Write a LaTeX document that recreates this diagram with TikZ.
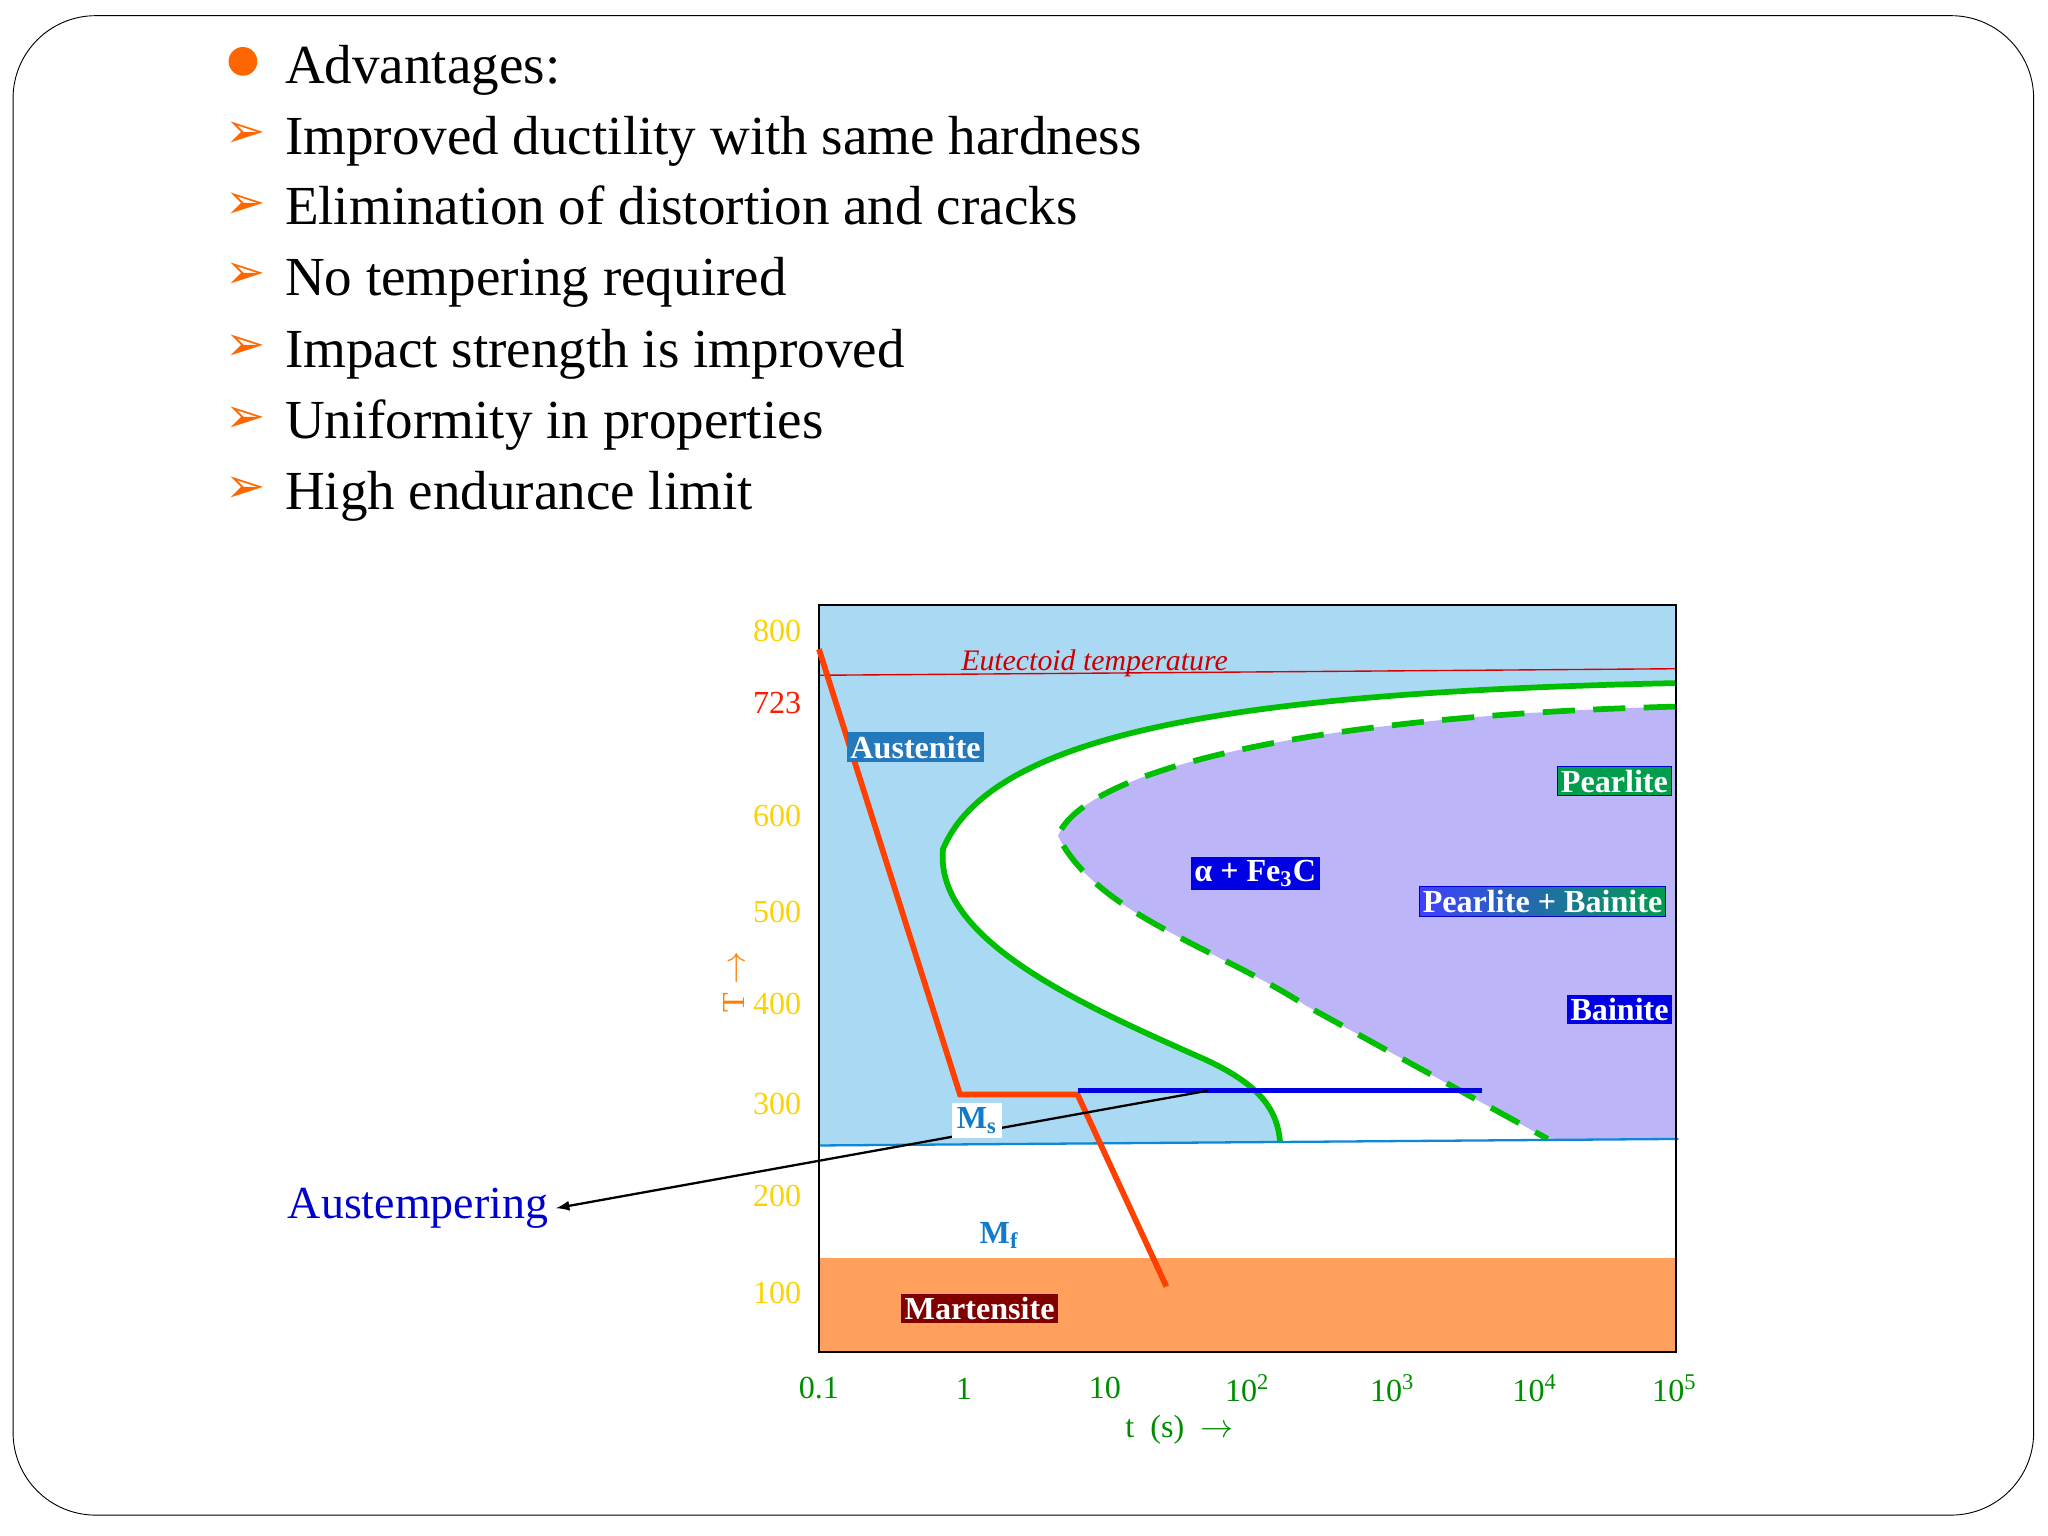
\documentclass[tikz,border=0pt]{standalone}
\usepackage{fontspec}
\setmainfont{Liberation Serif}
\newfontfamily\dejavu{DejaVu Sans}
\begin{document}
\begin{tikzpicture}[x=0.02cm,y=-0.02cm,
  bul/.style={anchor=base west,font=\fontsize{24}{28}\selectfont},
  arr/.style={anchor=base,text=orange!80!red,font=\dejavu\fontsize{21}{24}\selectfont},
  ytick/.style={text=yellow!70!orange,font=\fontsize{14}{16}\selectfont},
  xtick/.style={text=green!55!black,font=\fontsize{14}{16}\selectfont},
  lab/.style={text=white,font=\bfseries\fontsize{14}{16}\selectfont,inner sep=1.5pt}]
\useasboundingbox (0,0) rectangle (1568,1176);
\draw[rounded corners=36pt] (10,12) rectangle (1557,1160);
% bullets
\fill[orange!80!red] (186,47) circle (11);
\node[bul] (t0) at (212,64) {Advantages:};
\foreach \y/\t in {118/Improved ductility with same hardness,172/Elimination of distortion and cracks,226/No tempering required,281/Impact strength is improved,336/Uniformity in properties,390/High endurance limit}{
 \node[arr] at (188,\y-5) {➢};
 \node[bul] at (212,\y) {\t};}
% chart fills
\fill[cyan!30!white!95!blue] (627,463) rectangle (1283,877);
\fill[white] (627,877)--(1283,872)--(1283,963)--(627,963)--cycle;
\fill[orange!60!white!90!red] (627,963) rectangle (1283,1035);
\fill[white] (1283,523) .. controls (950,530) and (760,560) .. (722,650) .. controls (715,720) and (830,770) .. (920,810) .. controls (965,830) and (978,850) .. (980,874) -- (1283,872) -- cycle;
\fill[blue!25!white!95!violet] (1283,541) .. controls (1000,548) and (830,590) .. (810,640) .. controls (840,700) and (930,725) .. (1000,770) -- (1185,872) -- (1283,872) -- cycle;
\draw[green!75!black,line width=2.5pt,dash pattern=on 14pt off 8pt] (1283,541) .. controls (1000,548) and (830,590) .. (810,640) .. controls (840,700) and (930,725) .. (1000,770) -- (1185,872);
\draw[green!75!black,line width=2.5pt] (1283,523) .. controls (950,530) and (760,560) .. (722,650) .. controls (715,720) and (830,770) .. (920,810) .. controls (965,830) and (978,850) .. (980,874);
\draw[cyan!70!blue,line width=1pt] (627,877)--(1285,872);
\draw[red!85!black,line width=0.6pt] (627,517)--(1283,512);
\node[text=red!80!black,font=\itshape\fontsize{13}{15}\selectfont] at (838,508) {Eutectoid temperature};
\draw[black,line width=1pt] (627,463) rectangle (1283,1035);
% cooling path
\draw[red!50!orange,line width=2.5pt] (627,497)--(735,838)--(825,838)--(893,985);
\draw[blue!90!black,line width=2.5pt] (825,835)--(1135,835);
\coordinate (as) at (925,835);
\node[text=blue!80!black,font=\fontsize{20}{24}\selectfont] (aus) at (320,925) {Austempering};
\draw[-latex,line width=1pt] (as)--(aus.east);
% labels
\node[lab,fill=cyan!60!blue!90!black] at (701,572) {Austenite};
\node[lab,fill=green!45!black!70!cyan,draw=blue!80!black] at (1236,598) {Pearlite};
\node[lab,fill=blue!90!black] at (961,669) {α + Fe\textsubscript{3}C};
\node[lab,left color=blue!75!white,right color=green!45!black!70!cyan,draw=blue!80!black] at (1181,690) {Pearlite + Bainite};
\node[lab,fill=blue!90!black] at (1240,773) {Bainite};
\node[lab,fill=red!50!black] at (750,1002) {Martensite};
\node[fill=white,text=cyan!60!blue,font=\bfseries\fontsize{14}{16}\selectfont,inner sep=2pt] at (748,858) {M\textsubscript{s}};
\node[fill=white,text=cyan!60!blue,font=\bfseries\fontsize{14}{16}\selectfont,inner sep=2pt] at (765,946) {M\textsubscript{f}};
% ticks
\foreach \y/\t in {483/800,625/600,698/500,769/400,845/300,916/200,990/100}{\node[ytick] at (595,\y) {\t};}
\node[text=red!80!orange,font=\fontsize{14}{16}\selectfont] at (595,538) {723};
\node[text=orange,rotate=90,font=\fontsize{14}{16}\selectfont] at (562,752) {T $\rightarrow$};
\foreach \x/\t in {627/0.1,738/1,846/10,955/10\textsuperscript{2},1066/10\textsuperscript{3},1175/10\textsuperscript{4},1282/10\textsuperscript{5}}{\node[xtick] at (\x,1063) {\t};}
\node[xtick] at (903,1095) {t\ \ (s)\ \ $\rightarrow$};
\end{tikzpicture}
\end{document}
